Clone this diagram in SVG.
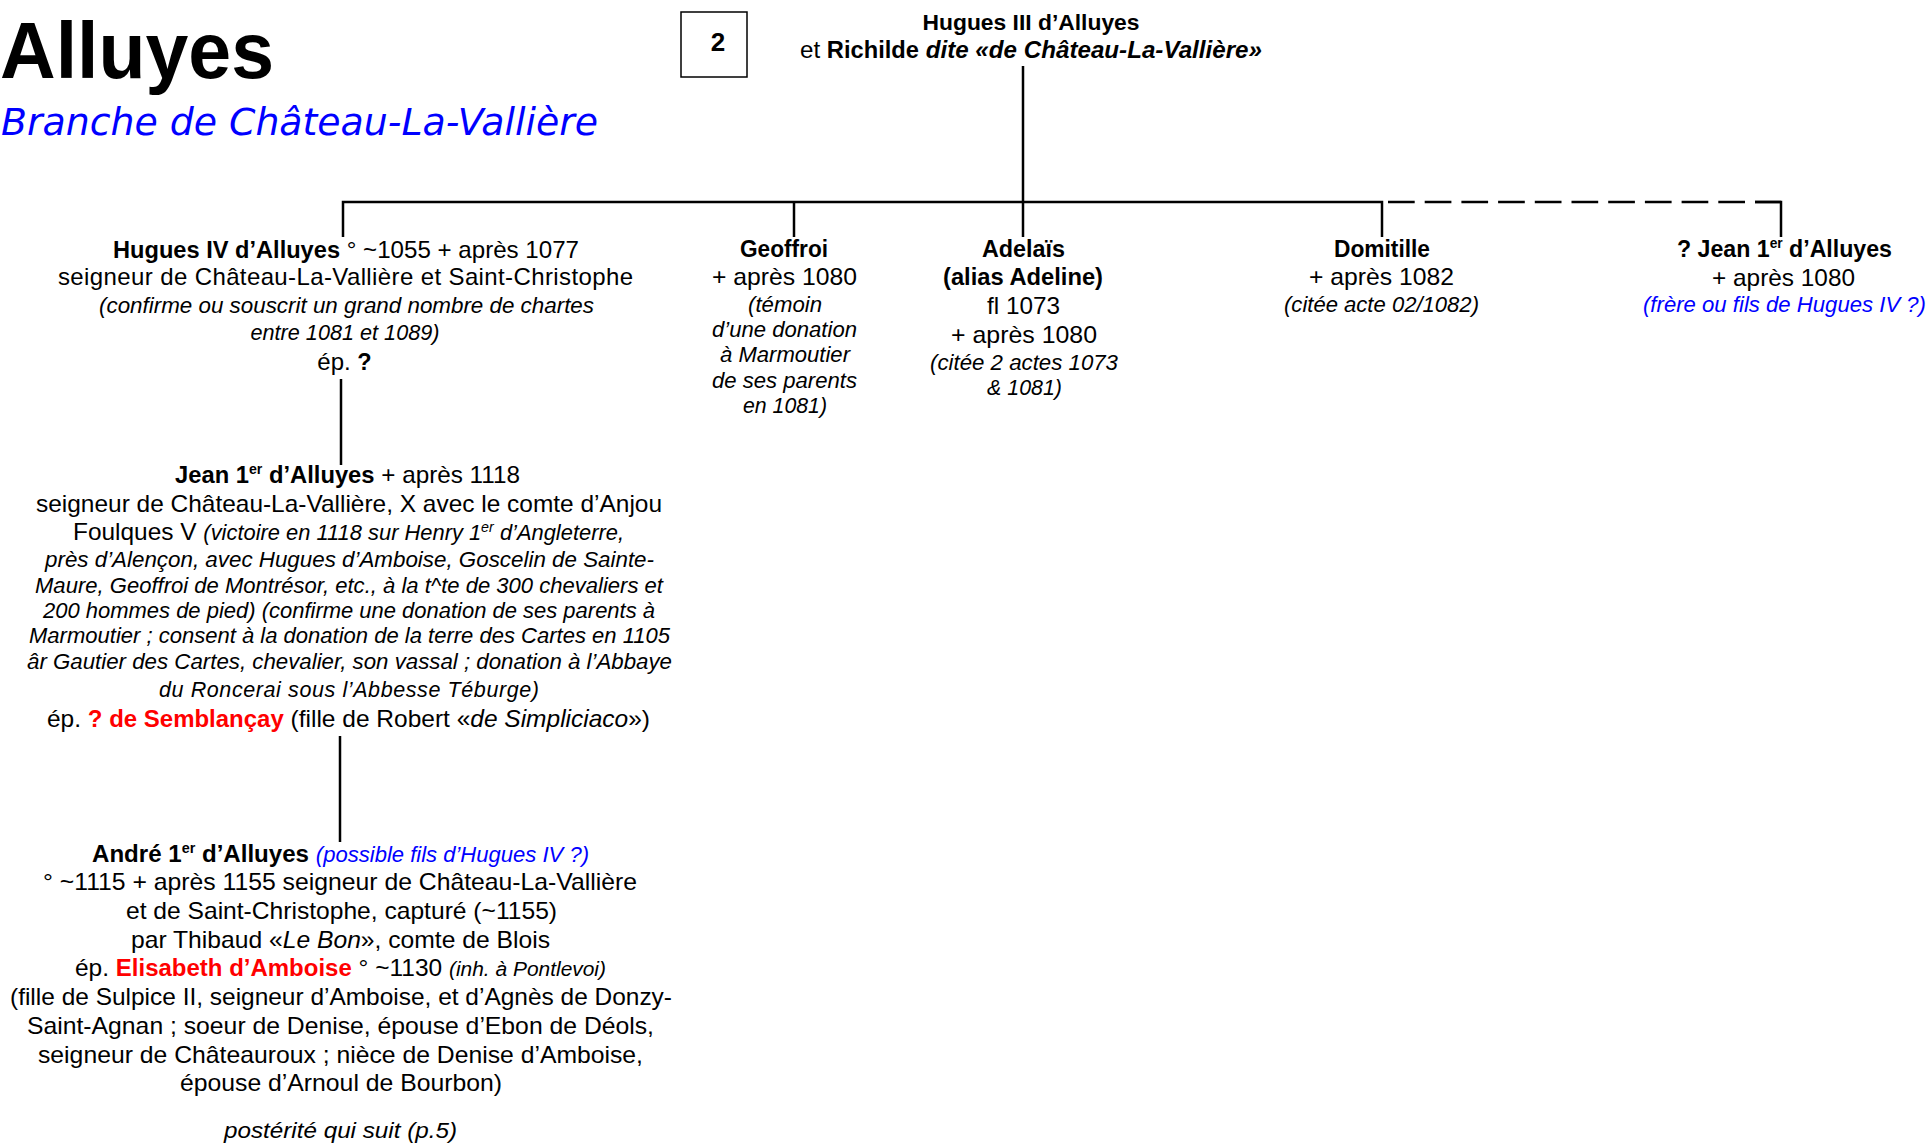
<svg xmlns="http://www.w3.org/2000/svg" width="1931" height="1144" viewBox="0 0 1931 1144">
<style>
text{font-family:"Liberation Sans",Arial,sans-serif;font-size:24px;fill:#000;text-anchor:middle}
.b{font-weight:bold;font-size:23.5px}
.i{font-style:italic;font-size:21.5px}
.bi{font-weight:bold;font-style:italic}
.it{font-style:italic}
.blue{fill:#0000FF}
.red{fill:#FF0000;font-weight:bold;font-size:23.5px}
.sup{font-size:14px}
.ln{stroke:#000;stroke-width:2.5;fill:none}
.dash{stroke-dasharray:26.7 10}
</style>
<rect width="1931" height="1144" fill="#fff"/>

<g id="title">
<text x="0" y="78" style="text-anchor:start;font-size:80px;font-weight:bold" textLength="274" lengthAdjust="spacingAndGlyphs">Alluyes</text>
<text x="1" y="135" style="text-anchor:start;font-family:'DejaVu Sans',Verdana,sans-serif;font-style:italic;font-size:37px;fill:#0000FF" textLength="597" lengthAdjust="spacingAndGlyphs">Branche de Château-La-Vallière</text>
</g>

<g id="page-box">
<rect x="681" y="12" width="66" height="65" fill="#fff" stroke="#000" stroke-width="1.5"/>
<text x="718" y="51" style="font-weight:bold;font-size:26px">2</text>
</g>

<g id="connectors">
<path class="ln" d="M1023 66V237"/>
<path class="ln" d="M343 237V202H1382V237"/>
<path class="ln" d="M794 202V237"/>
<path class="ln dash" d="M1388 202H1781"/>
<path class="ln" d="M1755 202H1781V237"/>
<path class="ln" d="M341 379V465"/>
<path class="ln" d="M340 736V842"/>
</g>

<g id="n-hugues3">
<text x="1031" y="30" class="b" style="font-size:22.5px" textLength="217" lengthAdjust="spacingAndGlyphs">Hugues III d’Alluyes</text>
<text x="1031" y="58" textLength="462" lengthAdjust="spacingAndGlyphs">et <tspan class="b">Richilde</tspan> <tspan class="bi">dite «de Château-La-Vallière»</tspan></text>
</g>

<g id="n-hugues4">
<text x="346" y="258" textLength="466" lengthAdjust="spacingAndGlyphs"><tspan class="b">Hugues IV d’Alluyes</tspan> ° ~1055 + après 1077</text>
<text x="345.5" y="285" textLength="575" lengthAdjust="spacing">seigneur de Château-La-Vallière et Saint-Christophe</text>
<text x="346.5" y="313" class="i" textLength="495" lengthAdjust="spacingAndGlyphs">(confirme ou souscrit un grand nombre de chartes</text>
<text x="345" y="340" class="i" textLength="189" lengthAdjust="spacingAndGlyphs">entre 1081 et 1089)</text>
<text x="344.5" y="370">ép. <tspan class="b">?</tspan></text>
</g>

<g id="n-geoffroi">
<text x="784" y="257" class="b" textLength="88" lengthAdjust="spacingAndGlyphs">Geoffroi</text>
<text x="784.5" y="285" textLength="145" lengthAdjust="spacingAndGlyphs">+ après 1080</text>
<text x="785" y="312" class="i" textLength="74" lengthAdjust="spacingAndGlyphs">(témoin</text>
<text x="784.5" y="337" class="i" textLength="145" lengthAdjust="spacingAndGlyphs">d’une donation</text>
<text x="785" y="362" class="i" textLength="130" lengthAdjust="spacingAndGlyphs">à Marmoutier</text>
<text x="784.5" y="388" class="i" textLength="145" lengthAdjust="spacingAndGlyphs">de ses parents</text>
<text x="785" y="413" class="i" textLength="84" lengthAdjust="spacingAndGlyphs">en 1081)</text>
</g>

<g id="n-adelais">
<text x="1023.5" y="257" class="b" textLength="83" lengthAdjust="spacingAndGlyphs">Adelaïs</text>
<text x="1023" y="285" class="b" textLength="160" lengthAdjust="spacingAndGlyphs">(alias Adeline)</text>
<text x="1023.5" y="314" textLength="73" lengthAdjust="spacingAndGlyphs">fl 1073</text>
<text x="1024" y="343" textLength="146" lengthAdjust="spacingAndGlyphs">+ après 1080</text>
<text x="1024" y="370" class="i" textLength="188" lengthAdjust="spacingAndGlyphs">(citée 2 actes 1073</text>
<text x="1024.5" y="395" class="i" textLength="75" lengthAdjust="spacingAndGlyphs">&amp; 1081)</text>
</g>

<g id="n-domitille">
<text x="1382" y="257" class="b" textLength="96" lengthAdjust="spacingAndGlyphs">Domitille</text>
<text x="1381.5" y="285" textLength="145" lengthAdjust="spacingAndGlyphs">+ après 1082</text>
<text x="1381.5" y="312" class="i" textLength="195" lengthAdjust="spacingAndGlyphs">(citée acte 02/1082)</text>
</g>

<g id="n-jean-q">
<text x="1784.5" y="257" class="b" textLength="215" lengthAdjust="spacingAndGlyphs">? Jean 1<tspan class="sup" dy="-9">er</tspan><tspan dy="9"> d’Alluyes</tspan></text>
<text x="1783.5" y="286" textLength="143" lengthAdjust="spacingAndGlyphs">+ après 1080</text>
<text x="1784.5" y="312" class="i blue" textLength="283" lengthAdjust="spacingAndGlyphs">(frère ou fils de Hugues IV ?)</text>
</g>

<g id="n-jean1">
<text x="347.5" y="483" textLength="345" lengthAdjust="spacingAndGlyphs"><tspan class="b">Jean 1</tspan><tspan class="b sup" dy="-9">er</tspan><tspan class="b" dy="9"> d’Alluyes</tspan> + après 1118</text>
<text x="349" y="512" textLength="626" lengthAdjust="spacingAndGlyphs">seigneur de Château-La-Vallière, X avec le comte d’Anjou</text>
<text x="348.5" y="540" textLength="551" lengthAdjust="spacingAndGlyphs">Foulques V <tspan class="i">(victoire en 1118 sur Henry 1</tspan><tspan class="i sup" dy="-8">er</tspan><tspan class="i" dy="8"> d’Angleterre,</tspan></text>
<text x="349.5" y="567" class="i" textLength="609" lengthAdjust="spacingAndGlyphs">près d’Alençon, avec Hugues d’Amboise, Goscelin de Sainte-</text>
<text x="349" y="593" class="i" textLength="628" lengthAdjust="spacingAndGlyphs">Maure, Geoffroi de Montrésor, etc., à la t^te de 300 chevaliers et</text>
<text x="349" y="618" class="i" textLength="612" lengthAdjust="spacingAndGlyphs">200 hommes de pied) (confirme une donation de ses parents à</text>
<text x="349.5" y="643" class="i" textLength="641" lengthAdjust="spacingAndGlyphs">Marmoutier ; consent à la donation de la terre des Cartes en 1105</text>
<text x="349.5" y="669" class="i" textLength="645" lengthAdjust="spacingAndGlyphs">âr Gautier des Cartes, chevalier, son vassal ; donation à l’Abbaye</text>
<text x="349" y="697" class="i" textLength="380" lengthAdjust="spacing">du Roncerai sous l’Abbesse Téburge)</text>
<text x="348.5" y="727" textLength="603" lengthAdjust="spacingAndGlyphs">ép. <tspan class="red">? de Semblançay</tspan> (fille de Robert «<tspan class="it">de Simpliciaco</tspan>»)</text>
</g>

<g id="n-andre">
<text x="340.5" y="862" textLength="497" lengthAdjust="spacingAndGlyphs"><tspan class="b">André 1</tspan><tspan class="b sup" dy="-9">er</tspan><tspan class="b" dy="9"> d’Alluyes</tspan> <tspan class="i blue">(possible fils d’Hugues IV ?)</tspan></text>
<text x="340" y="890" textLength="594" lengthAdjust="spacingAndGlyphs">° ~1115 + après 1155 seigneur de Château-La-Vallière</text>
<text x="341.5" y="919" textLength="431" lengthAdjust="spacingAndGlyphs">et de Saint-Christophe, capturé (~1155)</text>
<text x="340.5" y="948" textLength="419" lengthAdjust="spacingAndGlyphs">par Thibaud «<tspan class="it">Le Bon</tspan>», comte de Blois</text>
<text x="340.5" y="976" textLength="531" lengthAdjust="spacingAndGlyphs">ép. <tspan class="red">Elisabeth d’Amboise</tspan> ° ~1130 <tspan class="i" style="font-size:20.5px">(inh. à Pontlevoi)</tspan></text>
<text x="341" y="1005" textLength="662" lengthAdjust="spacingAndGlyphs">(fille de Sulpice II, seigneur d’Amboise, et d’Agnès de Donzy-</text>
<text x="340.5" y="1034" textLength="627" lengthAdjust="spacingAndGlyphs">Saint-Agnan ; soeur de Denise, épouse d’Ebon de Déols,</text>
<text x="340.5" y="1063" textLength="605" lengthAdjust="spacingAndGlyphs">seigneur de Châteauroux ; nièce de Denise d’Amboise,</text>
<text x="341" y="1091" textLength="322" lengthAdjust="spacingAndGlyphs">épouse d’Arnoul de Bourbon)</text>
<text x="340.5" y="1138" class="i" textLength="233" lengthAdjust="spacingAndGlyphs">postérité qui suit (p.5)</text>
</g>
</svg>
